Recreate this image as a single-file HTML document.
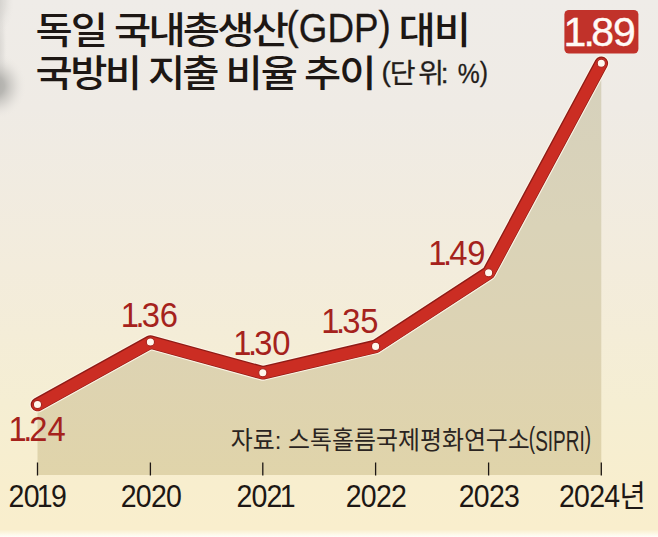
<!DOCTYPE html>
<html lang="ko">
<head>
<meta charset="utf-8">
<title>독일 국내총생산(GDP) 대비 국방비 지출 비율 추이</title>
<style>
  html, body { margin: 0; padding: 0; background: #efece8; }
  body { width: 658px; height: 537px; overflow: hidden; }
  svg { display: block; }
  text { font-family: "Liberation Sans", "Noto Sans CJK KR", sans-serif; }
  .ttl { font-size: 37.2px; font-weight: 500; fill: #1d1714; letter-spacing: -1.83px; }
  .gdp { font-size: 41px; font-weight: 400; fill: #1d1714; stroke: #1d1714; stroke-width: 0.3px; }
  .unit { font-size: 27.5px; font-weight: 400; fill: #231d1a; stroke: #231d1a; stroke-width: 0.3px; }
  .val { font-size: 34.5px; font-weight: 400; fill: #a5221c; }
  .big { font-size: 41px; font-weight: 400; fill: #fffaf6; stroke: #fffaf6; stroke-width: 0.4px; }
  .yr { font-size: 31px; font-weight: 400; fill: #1d1714; letter-spacing: -0.82px; }
  .src { font-size: 24.5px; font-weight: 400; fill: #2a2421; }
  .sip { font-size: 30px; font-weight: 400; fill: #2a2421; }
</style>
</head>
<body>
<svg width="658" height="537" viewBox="0 0 658 537">
  <defs>
    <linearGradient id="bg" x1="0" y1="0" x2="0" y2="1">
      <stop offset="0" stop-color="#efece8"/>
      <stop offset="0.20" stop-color="#efebe5"/>
      <stop offset="0.50" stop-color="#f3ecdc"/>
      <stop offset="0.75" stop-color="#f5eed3"/>
      <stop offset="0.90" stop-color="#f8eece"/>
      <stop offset="0.986" stop-color="#f9eecd"/>
      <stop offset="0.994" stop-color="#fdf8e6"/>
      <stop offset="1" stop-color="#fffef9"/>
    </linearGradient>
    <linearGradient id="area" gradientUnits="userSpaceOnUse" x1="0" y1="63" x2="0" y2="475">
      <stop offset="0" stop-color="#d6d1bd"/>
      <stop offset="0.4" stop-color="#dad3b8"/>
      <stop offset="0.7" stop-color="#ddd3b3"/>
      <stop offset="1" stop-color="#e0d4aa"/>
    </linearGradient>
    <radialGradient id="sm1" gradientUnits="userSpaceOnUse" cx="0" cy="0" r="1" gradientTransform="translate(-5,86) scale(31,33)">
      <stop offset="0" stop-color="#adaca8" stop-opacity="1"/>
      <stop offset="0.3" stop-color="#b3b2ae" stop-opacity="0.9"/>
      <stop offset="0.6" stop-color="#c4c2be" stop-opacity="0.5"/>
      <stop offset="0.85" stop-color="#d8d6d2" stop-opacity="0.15"/>
      <stop offset="1" stop-color="#e6e3df" stop-opacity="0"/>
    </radialGradient>
    <radialGradient id="sm2" gradientUnits="userSpaceOnUse" cx="0" cy="0" r="1" gradientTransform="translate(-3,0) scale(17,36)">
      <stop offset="0" stop-color="#c6c4c0" stop-opacity="0.75"/>
      <stop offset="0.5" stop-color="#d0cecA" stop-opacity="0.45"/>
      <stop offset="1" stop-color="#e6e3df" stop-opacity="0"/>
    </radialGradient>
    <radialGradient id="sm3" gradientUnits="userSpaceOnUse" cx="0" cy="0" r="1" gradientTransform="translate(-2,48) scale(9,62)">
      <stop offset="0" stop-color="#c4c2be" stop-opacity="0.6"/>
      <stop offset="0.6" stop-color="#d2d0cc" stop-opacity="0.35"/>
      <stop offset="1" stop-color="#e6e3df" stop-opacity="0"/>
    </radialGradient>
  </defs>

  <!-- background -->
  <rect x="0" y="0" width="658" height="537" fill="url(#bg)"/>
  <!-- blurry smudges on the left edge -->
  <rect x="0" y="0" width="10" height="115" fill="url(#sm3)"/>
  <rect x="0" y="0" width="20" height="40" fill="url(#sm2)"/>
  <rect x="0" y="45" width="32" height="80" fill="url(#sm1)"/>

  <!-- area under line -->
  <polygon points="37.5,404.5 150.4,342.0 262.8,372.8 375.6,346.4 488.6,272.8 601.3,63.2 601.3,475 37.5,475" fill="url(#area)"/>

  <!-- axis ticks -->
  <g stroke="#1d1714" stroke-width="1.3">
    <line x1="37.5" y1="462.5" x2="37.5" y2="475.5"/>
    <line x1="150.4" y1="462.5" x2="150.4" y2="475.5"/>
    <line x1="262.8" y1="462.5" x2="262.8" y2="475.5"/>
    <line x1="375.6" y1="462.5" x2="375.6" y2="475.5"/>
    <line x1="488.6" y1="462.5" x2="488.6" y2="475.5"/>
    <line x1="601.3" y1="462.5" x2="601.3" y2="475.5"/>
  </g>

  <!-- line -->
<polyline points="37.5,404.5 150.4,342.0 262.8,372.8 375.6,346.4 488.6,272.8 601.3,63.2" fill="none" stroke="#fdf5e8" stroke-opacity="0.95" stroke-width="15.8" stroke-linecap="round" stroke-linejoin="round"/>
  <polyline points="37.5,404.5 150.4,342.0 262.8,372.8 375.6,346.4 488.6,272.8 601.3,63.2" fill="none" stroke="#8f1c16" stroke-width="13.6" stroke-linecap="round" stroke-linejoin="round"/>
  <polyline points="37.5,404.5 150.4,342.0 262.8,372.8 375.6,346.4 488.6,272.8 601.3,63.2" fill="none" stroke="#cb2d23" stroke-width="11.6" stroke-linecap="round" stroke-linejoin="round" transform="translate(0.2,0.4)"/>

  <!-- points -->
  <g fill="#fff7ed" stroke="#a8231c" stroke-width="1.1">
    <circle cx="37.5" cy="404.5" r="4.1"/>
    <circle cx="150.4" cy="342.0" r="4.1"/>
    <circle cx="262.8" cy="372.8" r="4.1"/>
    <circle cx="375.6" cy="346.4" r="4.1"/>
    <circle cx="488.6" cy="272.8" r="4.1"/>
    <circle cx="601.3" cy="63.2" r="4.1"/>
  </g>

  <!-- badge -->
  <rect x="564.4" y="9.9" width="74" height="43.6" rx="4.5" ry="4.5" fill="#c1322a"/>

  <!-- title -->
  <text class="ttl" transform="translate(35.4,43.8) scale(1.088,1)">독일</text>
  <text class="ttl" transform="translate(114.1,43.8) scale(1.088,1)" style="letter-spacing:-2.61px">국내총생산</text>
  <text class="gdp" transform="translate(286.6,42.3) scale(0.897,1)"><tspan dy="-2.2">(</tspan><tspan dy="2.2">GDP</tspan><tspan dy="-2.2">)</tspan></text>
  <text class="ttl" transform="translate(398.4,43.8) scale(1.088,1)">대비</text>
  <text class="ttl" transform="translate(35.6,86.6) scale(1.088,1)" style="letter-spacing:-2.42px">국방비</text>
  <text class="ttl" transform="translate(148.1,86.6) scale(1.088,1)" style="letter-spacing:-2.81px">지출</text>
  <text class="ttl" transform="translate(225.6,86.6) scale(1.088,1)">비율</text>
  <text class="ttl" transform="translate(303.9,86.6) scale(1.088,1)">추이</text>
  <text class="unit" transform="translate(381.5,82.8) scale(1.02,1)"><tspan dy="-2.2">(</tspan><tspan dx="-1.1" dy="2.2">단</tspan><tspan dx="2.6">위</tspan><tspan dx="-3.1">:</tspan></text>
  <text class="unit" transform="translate(457.7,82.8) scale(0.9,1)">%<tspan dy="-2.2">)</tspan></text>

  <!-- value labels -->
  <text class="val" transform="translate(8.4,441.0) scale(0.95,1)">1<tspan dx="-3.6">.</tspan><tspan dx="-3.1">2</tspan><tspan dx="-0.2">4</tspan></text>
  <text class="val" transform="translate(120.8,327.1) scale(0.95,1)">1<tspan dx="-3.6">.</tspan><tspan dx="-3.1">3</tspan><tspan dx="-0.2">6</tspan></text>
  <text class="val" transform="translate(233.2,355.1) scale(0.95,1)">1<tspan dx="-3.6">.</tspan><tspan dx="-3.1">3</tspan><tspan dx="-0.2">0</tspan></text>
  <text class="val" transform="translate(321.2,333.1) scale(0.95,1)">1<tspan dx="-3.6">.</tspan><tspan dx="-3.1">3</tspan><tspan dx="-0.2">5</tspan></text>
  <text class="val" transform="translate(428.2,265.1) scale(0.95,1)">1<tspan dx="-3.6">.</tspan><tspan dx="-3.1">4</tspan><tspan dx="-0.2">9</tspan></text>
  <text class="big" transform="translate(563.4,46.0) scale(1.0,1)">1<tspan dx="-2.7">.</tspan><tspan dx="-3.7">8</tspan><tspan dx="-1.1">9</tspan></text>

  <!-- year labels -->
  <text class="yr" transform="translate(8.6,506.7) scale(0.92,1)">20<tspan dx="-2.1">1</tspan><tspan dx="-1.0">9</tspan></text>
  <text class="yr" transform="translate(120.7,506.7) scale(0.92,1)">2020</text>
  <text class="yr" transform="translate(236.4,506.7) scale(0.92,1)">202<tspan dx="-2.1">1</tspan></text>
  <text class="yr" transform="translate(345.7,506.7) scale(0.92,1)">2022</text>
  <text class="yr" transform="translate(458.7,506.7) scale(0.92,1)">2023</text>
  <text class="yr" transform="translate(559.0,506.7) scale(0.92,1)">2024년</text>

  <!-- source -->
  <text class="src" transform="translate(230.8,449.4) scale(0.976,1)">자료: 스톡홀름국제평화연구소</text>
  <text class="sip" transform="translate(528.8,450.8) scale(0.634,1)"><tspan dy="-2.6">(</tspan><tspan dy="2.6">SIPRI</tspan><tspan dy="-2.6">)</tspan></text>
</svg>
</body>
</html>
